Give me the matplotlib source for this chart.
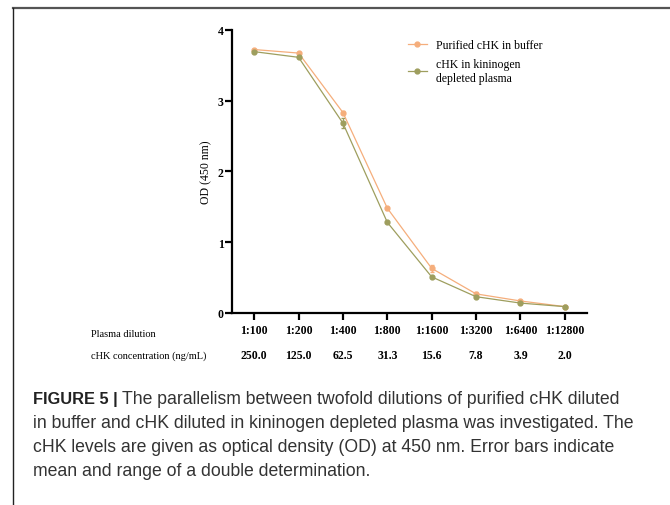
import matplotlib
matplotlib.use("Agg")
import matplotlib.pyplot as plt
from matplotlib.lines import Line2D

# Data
dilutions = ["1:100", "1:200", "1:400", "1:800", "1:1600", "1:3200", "1:6400", "1:12800"]
concentrations = ["250.0", "125.0", "62.5", "31.3", "15.6", "7.8", "3.9", "2.0"]
buffer_od = [3.72, 3.67, 2.83, 1.48, 0.63, 0.27, 0.17, 0.09]
buffer_err = [0.01, 0.01, 0.02, 0.02, 0.05, 0.02, 0.01, 0.01]
plasma_od = [3.69, 3.61, 2.68, 1.28, 0.51, 0.23, 0.14, 0.09]
plasma_err = [0.01, 0.01, 0.07, 0.01, 0.01, 0.01, 0.01, 0.01]

orange = "#F5AE7C"
green = "#9E9E5E"
serif = "Liberation Serif"

fig = plt.figure(figsize=(6.7, 5.06), dpi=100)

# frame lines of the figure panel
fig.add_artist(Line2D([13 / 670, 1], [1 - 9 / 506] * 2, color="#555555", lw=1.6))
fig.add_artist(Line2D([13 / 670] * 2, [0, 1 - 9 / 506], color="#222222", lw=1.0))

ax = fig.add_axes([232 / 670, 1 - 314 / 506, (587 - 232) / 670, (314 - 30.7) / 506])
x = list(range(len(dilutions)))

ax.errorbar(x, buffer_od, yerr=buffer_err, color=orange, marker="o", ms=3.5,
            lw=0.9, capsize=1.5, elinewidth=0.7)
ax.errorbar(x, plasma_od, yerr=plasma_err, color=green, marker="o", ms=3.5,
            lw=0.9, capsize=1.5, elinewidth=0.7)

ax.set_xlim(-0.5, 7.5)
ax.set_ylim(0, 4)
ax.set_yticks([0, 1, 2, 3, 4])
ax.set_xticks(x)
ax.set_xticklabels(dilutions)
for lab in ax.get_xticklabels() + ax.get_yticklabels():
    lab.set_fontfamily(serif)
    lab.set_fontweight("bold")
    lab.set_fontsize(8.5)
ax.tick_params(axis="both", length=5, width=1.6, pad=3)
ax.tick_params(axis="y", pad=1)
ax.spines["top"].set_visible(False)
ax.spines["right"].set_visible(False)
ax.spines["left"].set_linewidth(1.6)
ax.spines["bottom"].set_linewidth(1.6)
ax.set_ylabel("OD (450 nm)", fontfamily=serif, fontsize=8.5, labelpad=4)

handles = [
    Line2D([], [], color=orange, marker="o", ms=3.5, lw=0.9),
    Line2D([], [], color=green, marker="o", ms=3.5, lw=0.9),
]
labels = ["Purified cHK in buffer", "cHK in kininogen\ndepleted plasma"]
ax.legend(handles, labels, loc="upper left", bbox_to_anchor=(0.465, 1.005), frameon=False,
          prop={"family": serif, "size": 8.5}, handlelength=1.6,
          labelspacing=0.6)

# rows under the x axis
fig.text(91 / 670, 1 - 335 / 506, "Plasma dilution", fontfamily=serif, fontsize=7.5,
         va="center")
fig.text(91 / 670, 1 - 356 / 506, "cHK concentration (ng/mL)", fontfamily=serif,
         fontsize=7.5, va="center")
for i, c in enumerate(concentrations):
    xd, _ = ax.transData.transform((i, 0))
    fig.text(xd / 670, 1 - 356 / 506, c, fontfamily=serif, fontweight="bold",
             fontsize=8.5, ha="center", va="center")

# caption
cap_font = "Liberation Sans"
cap_size = 12.7
lines = [
    "The parallelism between twofold dilutions of purified cHK diluted",
    "in buffer and cHK diluted in kininogen depleted plasma was investigated. The",
    "cHK levels are given as optical density (OD) at 450 nm. Error bars indicate",
    "mean and range of a double determination.",
]
y0 = 1 - 400 / 506
dy = 24 / 506
t = fig.text(33 / 670, y0, "FIGURE 5 |", fontfamily=cap_font, fontweight="bold",
             fontsize=11.8, va="center", color="#222222")
fig.canvas.draw()
bb = t.get_window_extent()
fig.text(bb.x1 / 670 + 4 / 670, y0, lines[0], fontfamily=cap_font, fontsize=cap_size,
         va="center", color="#333333")
for k, ln in enumerate(lines[1:], start=1):
    fig.text(33 / 670, y0 - k * dy, ln, fontfamily=cap_font, fontsize=cap_size,
             va="center", color="#333333")

fig.savefig("out.png", dpi=100)
